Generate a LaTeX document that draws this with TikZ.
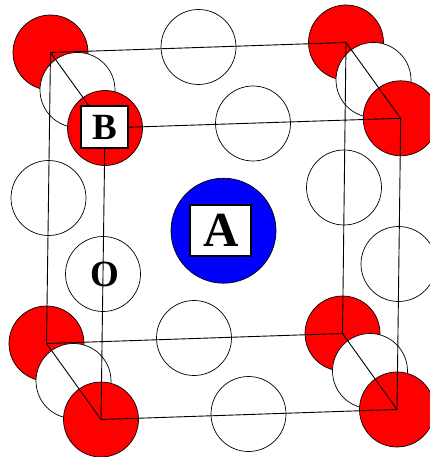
\documentclass[tikz,border=0pt]{standalone}
\usepackage{fontspec}
\setmainfont{Liberation Serif}
\tikzset{
	atom/.style   ={circle, draw=black, line width=0.7pt, minimum size=75pt, inner sep=0pt, fill=white},
	oxygen/.style ={atom},
	bsite/.style  ={atom, fill=red},
	asite/.style  ={atom, fill=blue, minimum size=105pt},
	labelbox/.style={rectangle, draw=black, line width=2.4pt, fill=white, inner sep=0pt, font=\bfseries},
	edge/.style   ={line width=0.9pt, black},
}
\begin{document}
\begin{tikzpicture}[x=1pt, y=-1pt]
	\useasboundingbox (0,0) rectangle (430,457);
	% back face
	\node[bsite] (b1) at (50.5,52.5) {};
	\node[bsite] (b2) at (346,42.5) {};
	\node[bsite] (b3) at (342.5,333.5) {};
	\node[bsite] (b4) at (46.5,343.5) {};
	% oxygens, edges running front to back
	\node[oxygen] (o1) at (77.5,90) {};
	\node[oxygen] (o2) at (373.5,80) {};
	\node[oxygen] (o3) at (370,371) {};
	\node[oxygen] (o4) at (73.5,381) {};
	% oxygens, face centres
	\node[oxygen] (o5) at (198.5,47) {};
	\node[oxygen] (o6) at (253,123.5) {};
	\node[oxygen] (o7) at (48.5,198) {};
	\node[oxygen] (o8) at (344,187.5) {};
	\node[oxygen] (o9) at (398.5,264) {};
	\node[oxygen] (o10) at (103,274) {};
	\node[oxygen] (o11) at (194,338) {};
	\node[oxygen] (o12) at (248.5,414) {};
	% front face
	\node[bsite] (b5) at (105,128) {};
	\node[bsite] (b6) at (400.7,118.3) {};
	\node[bsite] (b7) at (397,409.5) {};
	\node[bsite] (b8) at (101,419.5) {};
	\node[asite] (a) at (223.5,230.7) {};
	% cell
	\draw[edge] (b1.center) -- (b2.center) -- (b3.center) -- (b4.center) -- cycle;
	\draw[edge] (b5.center) -- (b6.center) -- (b7.center) -- (b8.center) -- cycle;
	\foreach \i/\j in {1/5, 2/6, 3/7, 4/8}
		\draw[edge] (b\i.center) -- (b\j.center);
	% labels
	\node[labelbox, minimum width=47.5pt, minimum height=42pt, font=\bfseries\fontsize{37}{37}\selectfont] (lb) at (104.5,127) {B\hspace{4pt}};
	\node[labelbox, minimum width=61pt, minimum height=51pt, font=\bfseries\fontsize{49}{49}\selectfont] (la) at (220.2,230.5) {\hspace{2pt}A};
	\node[font=\bfseries\fontsize{37}{37}\selectfont, inner sep=0pt, xshift=2pt] (lo) at (o10) {O};
\end{tikzpicture}
\end{document}
